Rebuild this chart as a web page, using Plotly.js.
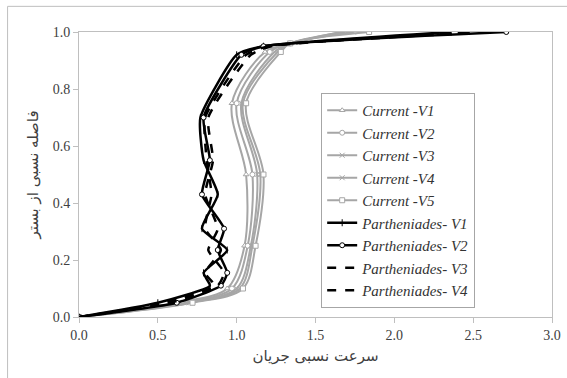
<!DOCTYPE html>
<html>
<head>
<meta charset="utf-8">
<script src="https://cdn.plot.ly/plotly-3.0.1.min.js"></script>
<style>html,body{margin:0;padding:0;background:#fff;}#chart{width:567px;height:378px;}</style>
</head>
<body>
<div id="chart"></div>
<script>
// Relative depth levels (y) for measured profiles
const yCurrent = [0, 0.05, 0.10, 0.25, 0.50, 0.75, 0.93, 0.96, 1.00];
const currentV1 = [0, 0.62, 0.94, 1.05, 1.06, 0.97, 1.18, 1.34, 1.66];
const currentV2 = [0, 0.65, 0.97, 1.07, 1.10, 1.00, 1.21, 1.34, 1.70];
const currentV3 = [0, 0.68, 1.00, 1.09, 1.13, 1.03, 1.24, 1.34, 1.74];
const currentV4 = [0, 0.70, 1.02, 1.10, 1.15, 1.04, 1.26, 1.34, 1.68];
const currentV5 = [0, 0.72, 1.04, 1.12, 1.17, 1.06, 1.28, 1.34, 1.84];

const yParth = [0, 0.05, 0.11, 0.155, 0.235, 0.31, 0.43, 0.55, 0.70, 0.92, 0.95, 1.00];
const parthV1 = [0, 0.50, 0.83, 0.79, 0.94, 0.78, 0.88, 0.79, 0.77, 1.00, 1.17, 2.36];
const parthV2 = [0, 0.62, 0.90, 0.94, 0.88, 0.92, 0.78, 0.83, 0.79, 1.03, 1.17, 2.71];
const parthV3 = [0, 0.55, 0.86, 0.80, 0.90, 0.80, 0.84, 0.81, 0.80, 1.06, 1.20, 2.50];
const parthV4 = [0, 0.58, 0.88, 0.92, 0.82, 0.88, 0.80, 0.85, 0.82, 1.09, 1.22, 2.60];

const names = ['Current -V1','Current -V2','Current -V3','Current -V4','Current -V5',
               'Partheniades- V1','Partheniades- V2','Partheniades- V3','Partheniades- V4'];
const xTicks = [0, 0.5, 1.0, 1.5, 2.0, 2.5, 3.0];
const yTicks = [0, 0.2, 0.4, 0.6, 0.8, 1.0];

const gray = '#a6a6a6';
const curSym = ['triangle-up','circle','x-thin-open','x-thin-open','square'];
const curData = [currentV1, currentV2, currentV3, currentV4, currentV5];
const traces = [];
curData.forEach((xs, i) => {
  traces.push({
    x: xs, y: yCurrent, name: names[i], type: 'scatter', mode: 'lines+markers',
    line: {color: gray, width: 2, shape: 'spline', smoothing: 0.9},
    marker: {symbol: curSym[i], size: 5, color: curSym[i].indexOf('open')>=0 ? gray : '#fff',
             line: {color: gray, width: 1}}
  });
});
const pData = [parthV1, parthV2, parthV3, parthV4];
const pDash = ['solid','solid','dash','dash'];
const pSym = ['line-ns-open','circle',null,null];
pData.forEach((xs, i) => {
  const t = {
    x: xs, y: yParth, name: names[5+i], type: 'scatter',
    mode: pSym[i] ? 'lines+markers' : 'lines',
    line: {color: '#000', width: 2.5, dash: pDash[i], shape: 'spline', smoothing: 0.5}
  };
  if (pSym[i]) t.marker = {symbol: pSym[i], size: 5, color: pSym[i]==='circle' ? '#fff' : '#000',
                           line: {color: '#000', width: 1}};
  traces.push(t);
});

const serif = 'Times New Roman, Liberation Serif, DejaVu Serif, serif';
const tickFont = {family: 'Liberation Serif, DejaVu Serif, serif', size: 14, color: '#404040'};
const layout = {
  width: 567, height: 378,
  margin: {l: 79, r: 15, t: 32, b: 61},
  paper_bgcolor: '#fff', plot_bgcolor: '#fff',
  showlegend: true,
  legend: {
    x: 0.512, y: 0.786, xanchor: 'left', yanchor: 'top',
    bgcolor: '#fff', bordercolor: '#a6a6a6', borderwidth: 1,
    font: {family: serif, size: 15, color: '#333', style: 'italic'},
    itemwidth: 30
  },
  xaxis: {
    range: [0, 3], tickvals: xTicks, ticktext: xTicks.map(v => v.toFixed(1)),
    showgrid: false, zeroline: false, showline: true, linecolor: '#bfbfbf', linewidth: 1,
    mirror: true, ticks: 'outside', ticklen: 5, tickcolor: '#bfbfbf',
    tickfont: tickFont,
    title: {text: 'سرعت نسبی جریان', font: {family: 'DejaVu Sans', size: 15, color: '#404040'}, standoff: 8}
  },
  yaxis: {
    range: [0, 1], tickvals: yTicks, ticktext: yTicks.map(v => v.toFixed(1)),
    showgrid: false, zeroline: false, showline: true, linecolor: '#bfbfbf', linewidth: 1,
    mirror: true, ticks: 'outside', ticklen: 5, tickcolor: '#bfbfbf',
    tickfont: tickFont,
    title: {text: 'فاصله نسبی از بستر', font: {family: 'DejaVu Sans', size: 15, color: '#404040'}, standoff: 10}
  },
  shapes: [
    {type: 'rect', xref: 'paper', yref: 'paper', x0: -0.151, x1: 1.2, y0: -0.4, y1: 1.09,
     line: {color: '#bfbfbf', width: 1}, fillcolor: 'rgba(0,0,0,0)', layer: 'below'}
  ]
};
Plotly.newPlot('chart', traces, layout, {staticPlot: true, displayModeBar: false});
</script>
</body>
</html>
